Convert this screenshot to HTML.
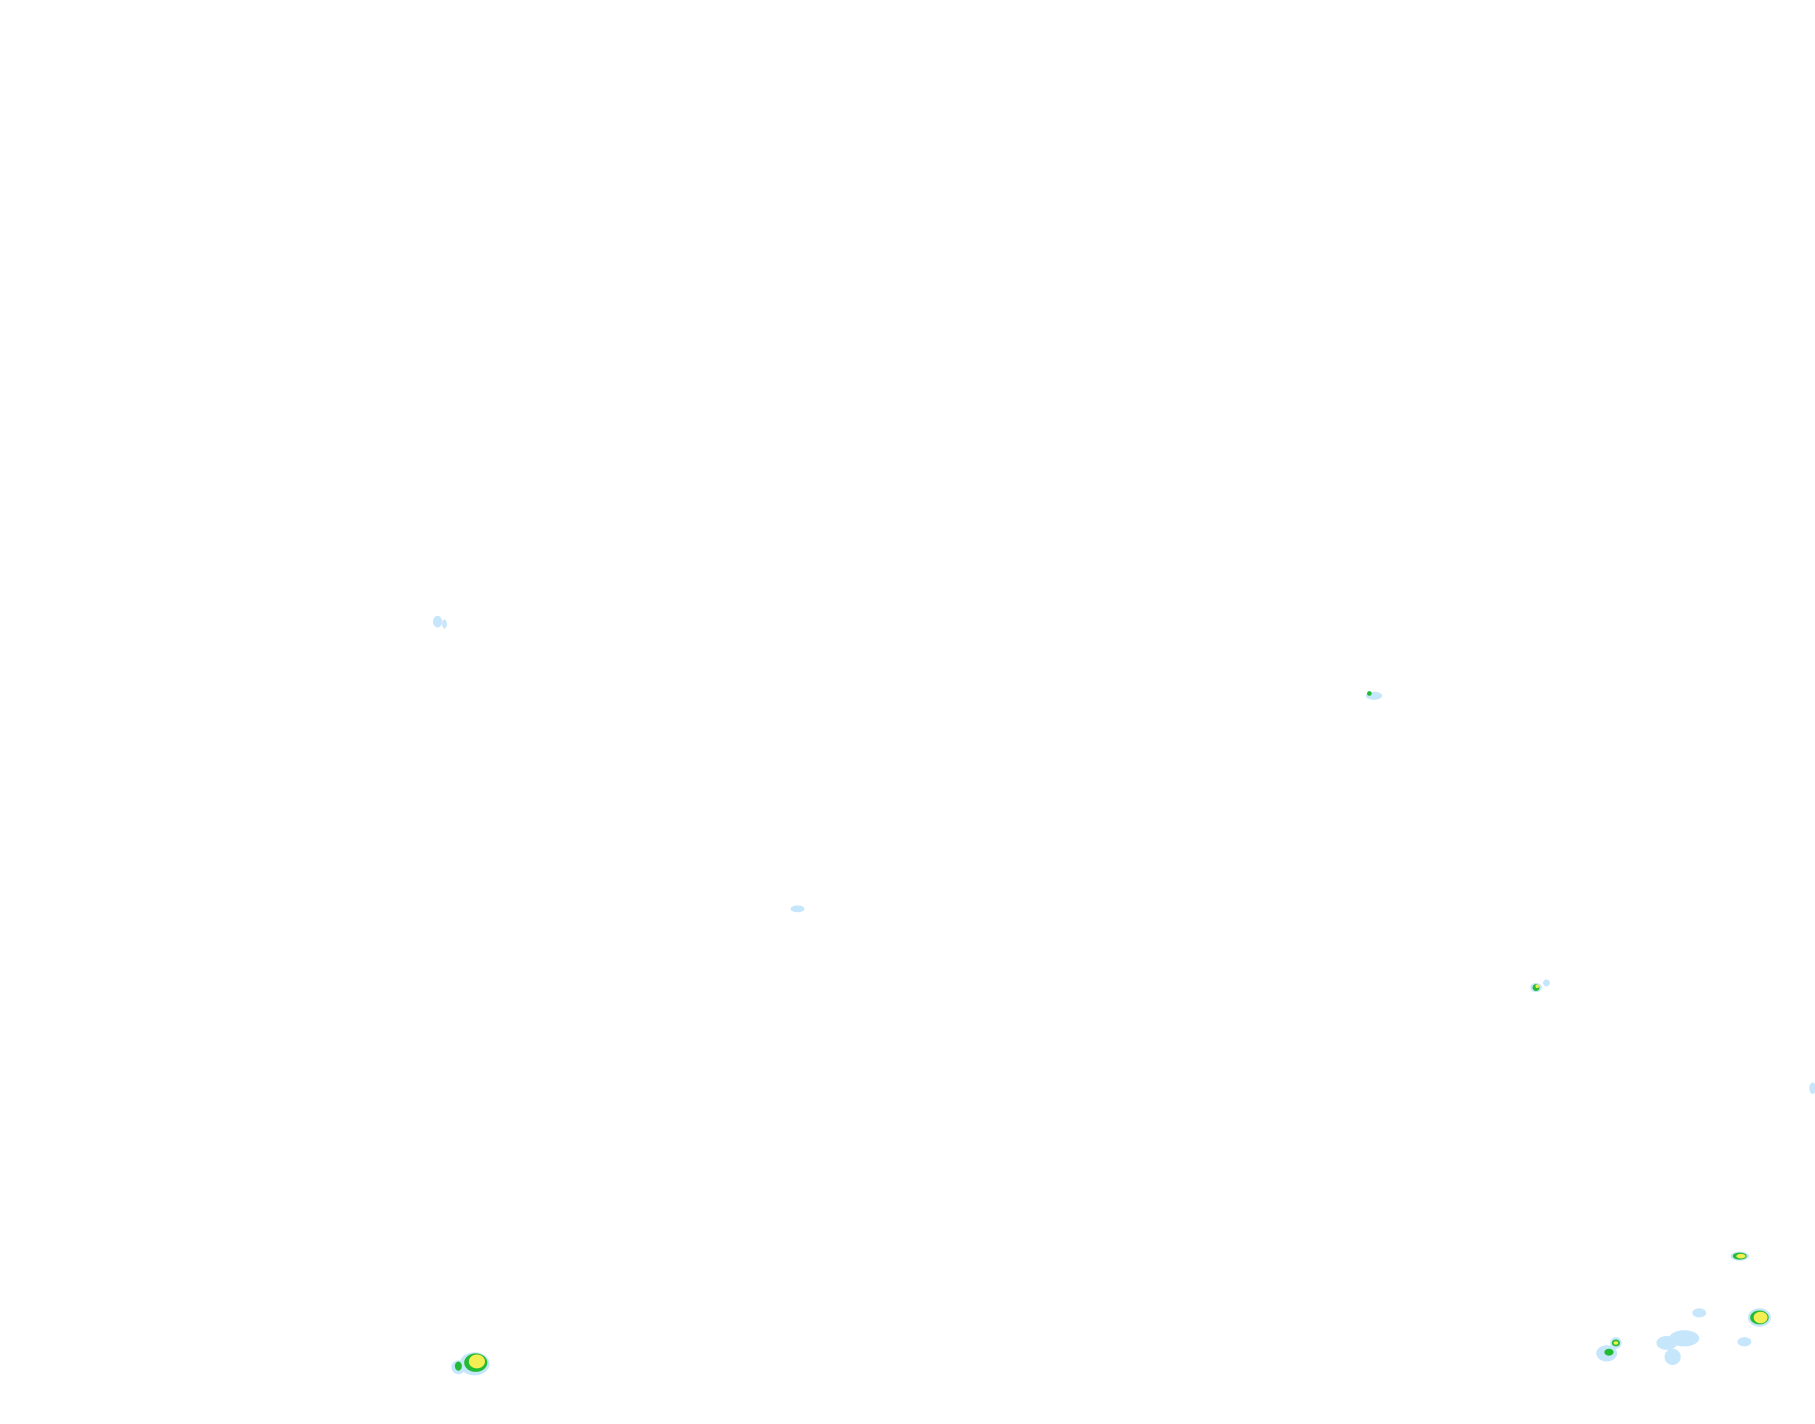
<!DOCTYPE html>
<html><head><meta charset="utf-8"><style>
html,body{margin:0;padding:0;background:#fff;}
svg{display:block;}
</style></head><body>
<svg width="1815" height="1424" viewBox="0 0 1568 1230" preserveAspectRatio="none" xmlns="http://www.w3.org/2000/svg">
<rect width="1568" height="1230" fill="#fff"/>
<g fill="#c6e6fb">
<ellipse cx="378" cy="537" rx="4" ry="5"/>
<ellipse cx="384" cy="539" rx="2" ry="4"/>
<ellipse cx="1187" cy="601" rx="7" ry="3.5"/>
<ellipse cx="689" cy="785" rx="6" ry="3"/>
<ellipse cx="1336" cy="849" rx="3" ry="3"/>
<ellipse cx="1327" cy="853" rx="5" ry="4"/>
<ellipse cx="1566" cy="940" rx="3" ry="5"/>
<ellipse cx="1503" cy="1085" rx="8" ry="4"/>
<ellipse cx="1468" cy="1134" rx="6" ry="4"/>
<ellipse cx="1520" cy="1138" rx="10" ry="8"/>
<ellipse cx="1455" cy="1156" rx="13" ry="7"/>
<ellipse cx="1440" cy="1160" rx="9" ry="6"/>
<ellipse cx="1445" cy="1172" rx="7" ry="7"/>
<ellipse cx="1388" cy="1169" rx="9" ry="7"/>
<ellipse cx="1396" cy="1160" rx="5" ry="5"/>
<ellipse cx="1507" cy="1159" rx="6" ry="4"/>
<ellipse cx="410" cy="1178" rx="13" ry="10"/>
<ellipse cx="396" cy="1181" rx="6" ry="6"/>
</g>
<g fill="#22bb33">
<ellipse cx="1183" cy="599" rx="2" ry="2"/>
<ellipse cx="1327" cy="853" rx="3" ry="3"/>
<ellipse cx="1503" cy="1085" rx="6" ry="3"/>
<ellipse cx="1520" cy="1138" rx="8" ry="6"/>
<ellipse cx="1390" cy="1168" rx="4" ry="3"/>
<ellipse cx="1396" cy="1160" rx="3.5" ry="3"/>
<ellipse cx="411" cy="1177" rx="10" ry="8"/>
<ellipse cx="396" cy="1180" rx="3" ry="4"/>
</g>
<g fill="#f4ee55">
<ellipse cx="1504" cy="1085" rx="4" ry="2"/>
<ellipse cx="1521" cy="1138" rx="6" ry="5"/>
<ellipse cx="1396" cy="1160" rx="2" ry="1.5"/>
<ellipse cx="412" cy="1176" rx="7" ry="6"/>
<ellipse cx="1328" cy="852" rx="1.5" ry="1.5"/>
</g>
</svg>
</body></html>
